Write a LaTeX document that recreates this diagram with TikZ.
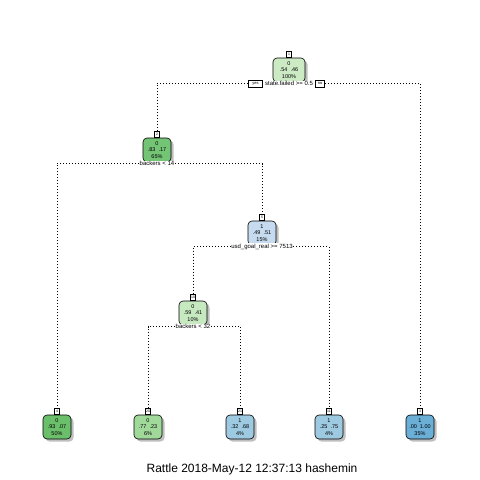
\documentclass[tikz,border=0pt]{standalone}
\usepackage{fontspec}
\setmainfont{Liberation Sans}
\usetikzlibrary{shadows}
\definecolor{gA}{HTML}{CCEBC5}
\definecolor{gB}{HTML}{74C476}
\definecolor{gC}{HTML}{6CBF6A}
\definecolor{gD}{HTML}{A1D99B}
\definecolor{gE}{HTML}{C7E9C0}
\definecolor{bA}{HTML}{C6DBEF}
\definecolor{bB}{HTML}{9ECAE1}
\definecolor{bC}{HTML}{6BAED6}
\begin{document}
\begin{tikzpicture}[x=1pt,y=-1pt,
  tnode/.style={draw, rounded corners=4pt, line width=0.6pt, minimum width=28pt,
    minimum height=24pt, inner sep=0.5pt, align=center,
    font=\fontsize{5.5}{6.8}\selectfont,
    drop shadow={shadow xshift=2.5pt,shadow yshift=-2.5pt,fill=black!25,opacity=1}},
  numbox/.style={draw, fill=white, line width=0.5pt, minimum width=5pt,
    minimum height=6pt, inner sep=0.4pt, font=\fontsize{3.5}{3.5}\selectfont, anchor=south},
  splitlab/.style={fill=white, inner sep=0.3pt, font=\fontsize{6}{6}\selectfont},
  yesno/.style={draw, fill=white, line width=0.5pt, inner sep=0.8pt,
    minimum height=7pt, font=\fontsize{4}{4}\selectfont},
  dotline/.style={line width=0.8pt, dash pattern=on 0.8pt off 2.2pt}]
\useasboundingbox (0,0) rectangle (480,480);
\fill[white] (0,0) rectangle (480,480);

% internal nodes
\node[tnode, fill=gA, minimum width=32pt] (n1) at (289,70) {0\\.54\ \ .46\\100\%};
\node[numbox] (n1num) at (n1.north) {1};
\node[tnode, fill=gB] (n2) at (157,150) {0\\.83\ \ .17\\65\%};
\node[numbox] (n2num) at (n2.north) {2};
\node[tnode, fill=bA] (n5) at (262,233) {1\\.49\ \ .51\\15\%};
\node[numbox] (n5num) at (n5.north) {5};
\node[tnode, fill=gE] (n10) at (193,313) {0\\.59\ \ .41\\10\%};
\node[numbox] (n10num) at (n10.north) {10};

% leaves
\node[tnode, fill=gC] (n4) at (57,427) {0\\.93\ \ .07\\50\%};
\node[numbox] (n4num) at (n4.north) {4};
\node[tnode, fill=gD] (n20) at (148,427) {0\\.77\ \ .23\\6\%};
\node[numbox] (n20num) at (n20.north) {20};
\node[tnode, fill=bB] (n21) at (240,427) {1\\.32\ \ .68\\4\%};
\node[numbox] (n21num) at (n21.north) {21};
\node[tnode, fill=bB] (n11) at (329,427) {1\\.25\ \ .75\\4\%};
\node[numbox] (n11num) at (n11.north) {11};
\node[tnode, fill=bC] (n3) at (420,427) {1\\.00\ \ 1.00\\35\%};
\node[numbox] (n3num) at (n3.north) {3};

% split labels
\node[splitlab] (s1) at (289,83.5) {state.failed >= 0.5};
\node[yesno, minimum width=14pt, anchor=east] (yes) at ([xshift=-2pt]s1.west) {yes};
\node[yesno, minimum width=9pt, anchor=west] (no) at ([xshift=2pt]s1.east) {no};
\node[splitlab] (s2) at (157,163.5) {backers < 14};
\node[splitlab] (s5) at (262,246.5) {usd\_goal\_real >= 7513};
\node[splitlab] (s10) at (193,326.5) {backers < 32};

% connectors
\draw[dotline] (yes.west) -| (n2num.north);
\draw[dotline] (no.east) -| (n3num.north);
\draw[dotline] (s2.west) -| (n4num.north);
\draw[dotline] (s2.east) -| (n5num.north);
\draw[dotline] (s5.west) -| (n10num.north);
\draw[dotline] (s5.east) -| (n11num.north);
\draw[dotline] (s10.west) -| (n20num.north);
\draw[dotline] (s10.east) -| (n21num.north);

\node[font=\fontsize{12}{12}\selectfont] (cap) at (252,469) {Rattle 2018-May-12 12:37:13 hashemin};
\end{tikzpicture}
\end{document}
